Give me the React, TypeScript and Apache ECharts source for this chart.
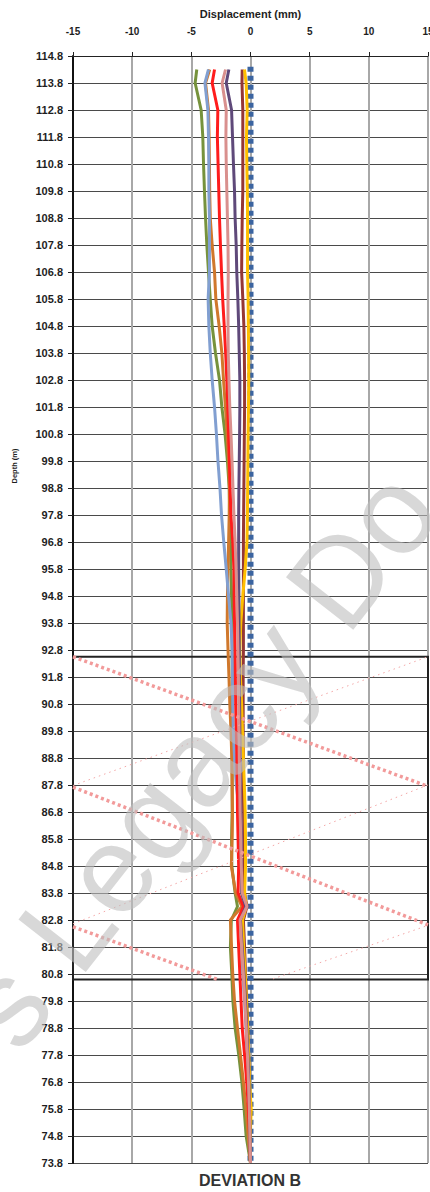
import React, { useEffect, useRef } from "react";
import * as echarts from "echarts";

// Depth stations of the inclinometer readings (m), top to bottom
const DEPTHS = [
  114.3, 113.8, 112.8, 111.8, 110.8, 109.8, 108.8, 107.8, 106.8, 105.8,
  104.8, 103.8, 102.8, 101.8, 100.8, 99.8, 98.8, 97.8, 96.8, 95.8,
  94.8, 93.8, 92.8, 91.8, 90.8, 89.8, 88.8, 87.8, 86.8, 85.8,
  84.8, 83.8, 83.3, 82.8, 81.8, 80.8, 79.8, 78.8, 77.8, 76.8,
  75.8, 74.8, 73.8,
];

// Depth axis extent; tick labels run 73.8 … 114.8 in 1 m steps
const DEPTH_BOTTOM = 73.8;
const DEPTH_TOP = 114.8;
const DEPTH_STEP = 1;

// Displacement axis (mm)
const DISP_MIN = -15;
const DISP_MAX = 15;
const DISP_STEP = 5;

// Cumulative displacement per survey (mm), one value per depth station
const SURVEY_GREEN = [
  -4.54, -4.68, -4.17, -4.03, -3.97, -3.89, -3.8, -3.69, -3.55, -3.4,
  -3.24, -2.96, -2.62, -2.42, -2.15, -1.95, -1.8, -1.75, -1.7, -1.65,
  -1.6, -1.55, -1.55, -1.55, -1.55, -1.55, -1.55, -1.55, -1.55, -1.6,
  -1.58, -1.3, -1.1, -1.62, -1.7, -1.58, -1.49, -1.3, -0.99, -0.73,
  -0.54, -0.37, 0,
];
const SURVEY_LIGHT_BLUE = [
  -3.55, -3.85, -3.6, -3.55, -3.52, -3.52, -3.47, -3.47, -3.47, -3.58,
  -3.52, -3.4, -3.24, -3.04, -2.88, -2.75, -2.58, -2.45, -2.26, -2.05,
  -1.85, -1.65, -1.55, -1.52, -1.5, -1.45, -1.35, -1.2, -0.93, -0.72,
  -0.55, -0.7, -0.45, -0.8, -0.75, -0.65, -0.5, -0.38, -0.3, -0.2,
  -0.12, -0.06, 0,
];
const SURVEY_ORANGE = [
  -3.45, -3.8, -3.55, -3.5, -3.47, -3.45, -3.4, -3.24, -3.04, -2.93,
  -2.65, -2.42, -2.28, -2.12, -1.98, -1.85, -1.78, -1.8, -1.85, -1.9,
  -1.95, -1.97, -1.9, -1.82, -1.75, -1.65, -1.58, -1.55, -1.52, -1.55,
  -1.62, -1.25, -0.72, -1.7, -1.6, -1.5, -1.35, -1.1, -0.85, -0.6,
  -0.38, -0.2, 0,
];
const SURVEY_RED = [
  -3.04, -3.24, -2.76, -2.8, -2.74, -2.68, -2.62, -2.54, -2.45, -2.35,
  -2.22, -2.1, -2.0, -1.92, -1.85, -1.78, -1.72, -1.65, -1.5, -1.4,
  -1.38, -1.35, -1.3, -1.28, -1.25, -1.2, -1.15, -1.12, -1.1, -1.05,
  -1.0, -1.05, -0.6, -1.1, -1.0, -0.9, -0.8, -0.7, -0.5, -0.32,
  -0.18, -0.08, 0,
];
const SURVEY_PINK = [
  -2.11, -2.4, -2.05, -2.08, -2.05, -2.0, -1.95, -1.9, -1.88, -1.9,
  -1.9, -1.88, -1.82, -1.75, -1.65, -1.56, -1.48, -1.4, -1.3, -1.22,
  -1.16, -1.1, -1.06, -1.02, -1.0, -0.97, -0.95, -0.9, -0.88, -0.82,
  -0.78, -0.7, -0.3, -0.88, -0.75, -0.6, -0.48, -0.36, -0.26, -0.17,
  -0.1, -0.05, 0,
];
const SURVEY_PURPLE = [
  -1.83, -2.05, -1.6, -1.52, -1.44, -1.35, -1.3, -1.21, -1.16, -1.07,
  -1.0, -0.95, -0.9, -0.9, -0.92, -0.95, -0.98, -1.0, -1.0, -1.0,
  -0.98, -0.97, -0.95, -0.94, -0.92, -0.9, -0.88, -0.85, -0.82, -0.8,
  -0.76, -0.75, -0.4, -0.85, -0.7, -0.55, -0.42, -0.32, -0.22, -0.14,
  -0.08, -0.04, 0,
];
const SURVEY_DARK_RED = [
  -0.7, -0.72, -0.65, -0.65, -0.65, -0.65, -0.7, -0.73, -0.75, -0.65,
  -0.56, -0.52, -0.5, -0.5, -0.52, -0.54, -0.56, -0.58, -0.6, -0.6,
  -0.6, -0.6, -0.6, -0.62, -0.62, -0.62, -0.6, -0.6, -0.58, -0.55,
  -0.55, -0.5, -0.3, -0.6, -0.5, -0.42, -0.32, -0.22, -0.16, -0.1,
  -0.06, -0.03, 0,
];
const SURVEY_YELLOW = [
  -0.51, -0.37, -0.28, -0.34, -0.31, -0.27, -0.25, -0.25, -0.25, -0.2,
  -0.18, -0.16, -0.15, -0.17, -0.2, -0.22, -0.24, -0.26, -0.3, -0.45,
  -0.65, -0.82, -0.9, -0.85, -0.75, -0.68, -0.6, -0.52, -0.45, -0.42,
  -0.42, -0.5, -0.35, -0.68, -0.58, -0.45, -0.34, -0.24, -0.15, -0.08,
  0.06, -0.02, 0,
];

// Base (zero) reading
const BASE_DEPTHS = [114.4, 73.8];
const BASE_VALUES = [0, 0];

// Zone of interest outline (depth range, m)
const ZONE_TOP = 92.55;
const ZONE_BOTTOM = 80.6;

// Diagonal hatching across the zone: [displacement, depth] end points
const HATCH_BOLD = [
  [[-15, 92.55], [15, 87.75]],
  [[-15, 87.72], [15, 82.62]],
  [[-15, 82.55], [-2.8, 80.6]],
];
const HATCH_FINE = [
  [[-15, 87.78], [15, 92.55]],
  [[-15, 82.66], [15, 87.8]],
  [[1.9, 80.62], [15, 82.6]],
];

const FONT = '"Liberation Sans", Arial, sans-serif';

const toAxis = (depth: number) => +(depth - DEPTH_BOTTOM).toFixed(3);
const toPoints = (values: number[], depths: number[]) =>
  values.map((v, i) => [v, toAxis(depths[i])]);

const SURVEYS = [
  { name: "Survey 1", values: SURVEY_GREEN, color: "#76923c" },
  { name: "Survey 2", values: SURVEY_ORANGE, color: "#d0782c" },
  { name: "Survey 3", values: SURVEY_LIGHT_BLUE, color: "#819fd1" },
  { name: "Survey 4", values: SURVEY_RED, color: "#ff1c1c" },
  { name: "Survey 5", values: SURVEY_DARK_RED, color: "#953735" },
  { name: "Survey 6", values: SURVEY_YELLOW, color: "#ffbf00" },
  { name: "Survey 7", values: SURVEY_PURPLE, color: "#5f497a" },
  { name: "Survey 8", values: SURVEY_PINK, color: "#d9908e" },
];

export default function App() {
  const ref = useRef<HTMLDivElement>(null);

  useEffect(() => {
    if (!ref.current) return;
    document.documentElement.style.overflow = "hidden";
    document.body.style.margin = "0";
    document.body.style.overflow = "hidden";
    const chart = echarts.init(ref.current, null, { renderer: "svg", width: 430, height: 1192 });

    const wmSize = 124;
    const wmAngle = (52 * Math.PI) / 180;
    const wmBaseX = 20;
    const wmBaseY = 1056;
    // anchor the text's vertical middle, offset from its baseline
    const wmMidX = wmBaseX - 0.347 * wmSize * Math.sin(wmAngle);
    const wmMidY = wmBaseY - 0.347 * wmSize * Math.cos(wmAngle);

    const option: any = {
      animation: false,
      backgroundColor: "#ffffff",
      grid: {
        left: 73,
        right: 2,
        top: 56,
        bottom: 29,
        containLabel: false,
        outerBoundsMode: "none",
      },
      xAxis: {
        type: "value",
        position: "top",
        min: DISP_MIN,
        max: DISP_MAX,
        interval: DISP_STEP,
        name: "Displacement (mm)",
        nameLocation: "middle",
        nameGap: 37,
        nameTextStyle: { fontFamily: FONT, fontWeight: "bold", fontSize: 11, color: "#1e1e1e" },
        axisLine: { show: true, onZero: false, lineStyle: { color: "#222", width: 1 } },
        axisTick: { show: true, length: 4, lineStyle: { color: "#222" } },
        axisLabel: { fontFamily: FONT, fontWeight: "bold", fontSize: 10, color: "#1e1e1e", margin: 20 },
        splitLine: { show: true, lineStyle: { color: "#a8a8a8", width: 2 } },
      },
      yAxis: {
        type: "value",
        min: 0,
        max: toAxis(DEPTH_TOP),
        interval: DEPTH_STEP,
        axisLine: { show: true, onZero: false, lineStyle: { color: "#111", width: 2 } },
        axisTick: { show: true, length: 5, lineStyle: { color: "#222" } },
        axisLabel: {
          fontFamily: FONT,
          fontWeight: "bold",
          fontSize: 11,
          color: "#1e1e1e",
          margin: 10,
          formatter: (v: number) => (v + DEPTH_BOTTOM).toFixed(1),
        },
        splitLine: { show: true, lineStyle: { color: "#4a4a4a", width: 1 } },
      },
      series: [
        {
          name: "Base",
          type: "line",
          data: toPoints(BASE_VALUES, BASE_DEPTHS),
          showSymbol: false,
          lineStyle: { color: "#3b64a0", width: 6, type: [5, 4], cap: "butt" },
          z: 2,
          markArea: {
            silent: true,
            itemStyle: { color: "rgba(0,0,0,0)", borderColor: "#222", borderWidth: 2 },
            data: [[{ coord: [DISP_MIN, toAxis(ZONE_TOP)] }, { coord: [DISP_MAX, toAxis(ZONE_BOTTOM)] }]],
          },
        },
        ...SURVEYS.map((s) => ({
          name: s.name,
          type: "line",
          data: toPoints(s.values, DEPTHS),
          showSymbol: false,
          lineStyle: { color: s.color, width: 3 },
          z: 3,
        })),
        {
          name: "Hatch bold",
          type: "lines",
          coordinateSystem: "cartesian2d",
          silent: true,
          z: 5,
          lineStyle: { color: "#f29a9a", width: 3.5, type: [3, 3], opacity: 1, curveness: 0 },
          data: HATCH_BOLD.map((seg) => ({ coords: seg.map(([x, d]) => [x, toAxis(d)]) })),
        },
        {
          name: "Hatch fine",
          type: "lines",
          coordinateSystem: "cartesian2d",
          silent: true,
          z: 5,
          lineStyle: { color: "#f4a8a8", width: 1, type: [1.5, 4], opacity: 1, curveness: 0 },
          data: HATCH_FINE.map((seg) => ({ coords: seg.map(([x, d]) => [x, toAxis(d)]) })),
        },
      ],
      graphic: [
        {
          type: "text",
          x: 14,
          y: 466,
          rotation: Math.PI / 2,
          style: {
            text: "Depth (m)",
            font: `bold 7.5px ${FONT}`,
            fill: "#1e1e1e",
            align: "center",
            verticalAlign: "middle",
          },
        },
        {
          type: "text",
          x: 250,
          y: 1180,
          style: {
            text: "DEVIATION B",
            font: `bold 16px ${FONT}`,
            fill: "#333",
            align: "center",
            verticalAlign: "middle",
          },
        },
        {
          type: "text",
          x: wmMidX,
          y: wmMidY,
          rotation: wmAngle,
          silent: true,
          z: 100,
          style: {
            text: "s Legacy Do",
            font: `${wmSize}px ${FONT}`,
            fill: "rgba(190,190,190,0.6)",
            align: "left",
            verticalAlign: "middle",
          },
        },
      ],
    };

    chart.setOption(option);
    return () => chart.dispose();
  }, []);

  return <div ref={ref} style={{ width: 430, height: 1192 }} />;
}
